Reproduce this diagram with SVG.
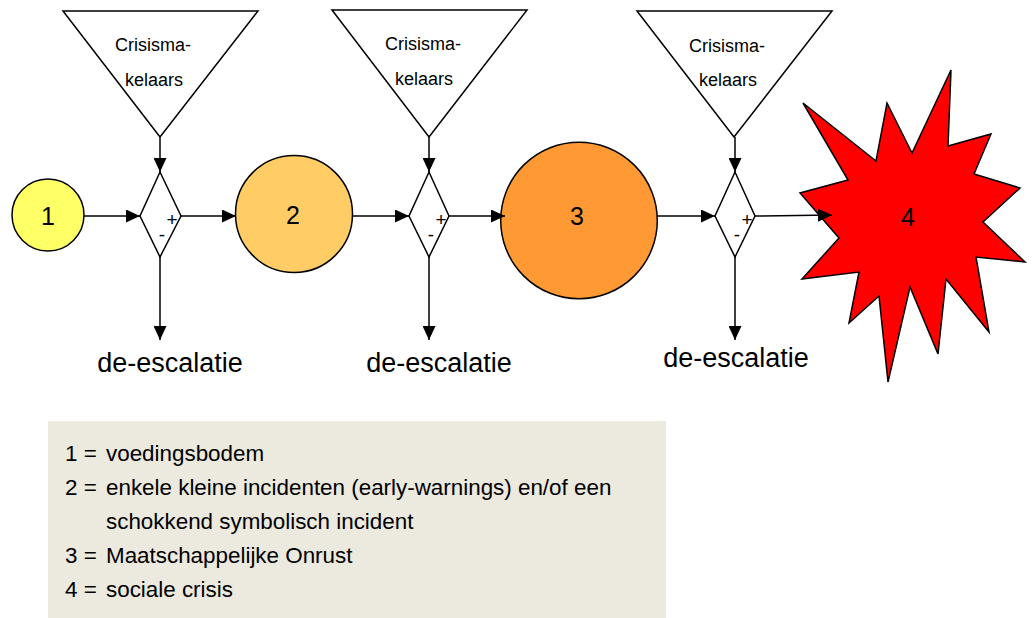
<svg xmlns="http://www.w3.org/2000/svg" width="1032" height="618" viewBox="0 0 1032 618">
<defs>
<marker id="ah" markerUnits="userSpaceOnUse" markerWidth="15" markerHeight="13" refX="14" refY="6.5" orient="auto">
<path d="M0,0 L14,6.5 L0,13 z" fill="#000"/>
</marker>
<style>
text{font-family:"Liberation Sans",Arial,sans-serif;fill:#000}
.tri,.dia{fill:#fff;stroke:#000;stroke-width:1.5}
.node{stroke:#000;stroke-width:1.5}
.lbl{font-size:18px;text-anchor:middle}
.num{font-size:25px;text-anchor:middle}
.pm{font-size:19px;text-anchor:middle}
.de{font-size:27px;text-anchor:middle}
.leg{font-size:22.4px}
.con{stroke:#000;stroke-width:1.5;fill:none;marker-end:url(#ah)}
</style>
</defs>
<rect width="1032" height="618" fill="#fff"/>

<g id="broker1">
<polygon class="tri" points="63,11 258,11 160,137"/>
<text class="lbl" x="153" y="51">Crisisma-</text>
<text class="lbl" x="154" y="86">kelaars</text>
</g>
<g id="broker2">
<polygon class="tri" points="332,10 527,10 429,137"/>
<text class="lbl" x="423" y="50">Crisisma-</text>
<text class="lbl" x="424" y="85">kelaars</text>
</g>
<g id="broker3">
<polygon class="tri" points="637,11 832,11 734,137"/>
<text class="lbl" x="727" y="52">Crisisma-</text>
<text class="lbl" x="728" y="86">kelaars</text>
</g>

<g id="gate1">
<polygon class="dia" points="160,172 181,216 160,257 140,216"/>
<text class="pm" x="172" y="226">+</text>
<text class="pm" x="162" y="241">-</text>
</g>
<g id="gate2">
<polygon class="dia" points="429,172 449,216 429,257 409,216"/>
<text class="pm" x="441" y="226">+</text>
<text class="pm" x="431" y="241">-</text>
</g>
<g id="gate3">
<polygon class="dia" points="735,172 755,216 735,257 715,216"/>
<text class="pm" x="747" y="226">+</text>
<text class="pm" x="737" y="241">-</text>
</g>

<g id="n1">
<circle class="node" cx="48" cy="215" r="36" fill="#FFFF66"/>
<text class="num" x="48" y="225">1</text>
</g>
<g id="n2">
<circle class="node" cx="294" cy="214" r="58.5" fill="#FFCC66"/>
<text class="num" x="293" y="224">2</text>
</g>
<g id="n3">
<circle class="node" cx="579" cy="220.5" r="78.3" fill="#FF9933"/>
<text class="num" x="577" y="225">3</text>
</g>
<g id="n4">
<polygon class="node" fill="#FF0000" points="803,103 876,161 887,103 912,153 951,70 948,146 991,134 974,174 1020,188 983,222 1025,262 976,257 989,332 946,279 938,354 910,287 888,382 879,296 849,323 859,272 802,279 839,238 800,193 848,180"/>
<text class="num" x="908" y="226">4</text>
</g>

<g id="deesc">
<text class="de" x="170" y="372">de-escalatie</text>
<text class="de" x="439" y="372">de-escalatie</text>
<text class="de" x="736" y="367">de-escalatie</text>
</g>

<g id="connectors">
<line class="con" x1="84" y1="216" x2="140" y2="216"/>
<line class="con" x1="181" y1="216" x2="236" y2="216"/>
<line class="con" x1="352" y1="216" x2="409" y2="216"/>
<line class="con" x1="449" y1="216" x2="505" y2="216"/>
<line class="con" x1="657" y1="216" x2="715" y2="216"/>
<line class="con" x1="755" y1="216" x2="832" y2="215"/>
<line class="con" x1="160" y1="137" x2="160" y2="172"/>
<line class="con" x1="429" y1="137" x2="429" y2="172"/>
<line class="con" x1="735" y1="137" x2="735" y2="172"/>
<line class="con" x1="160" y1="257" x2="160" y2="340"/>
<line class="con" x1="429" y1="257" x2="429" y2="340"/>
<line class="con" x1="735" y1="257" x2="735" y2="340"/>
</g>

<g id="legend">
<rect x="48" y="421" width="618" height="197" fill="#ECE9DF"/>
<text class="leg" y="461"><tspan x="65">1 =</tspan><tspan x="106">voedingsbodem</tspan></text>
<text class="leg" y="495"><tspan x="65">2 =</tspan><tspan x="106">enkele kleine incidenten (early-warnings) en/of een</tspan></text>
<text class="leg" x="106" y="529">schokkend symbolisch incident</text>
<text class="leg" y="563"><tspan x="65">3 =</tspan><tspan x="106">Maatschappelijke Onrust</tspan></text>
<text class="leg" y="597"><tspan x="65">4 =</tspan><tspan x="106">sociale crisis</tspan></text>
</g>
</svg>
